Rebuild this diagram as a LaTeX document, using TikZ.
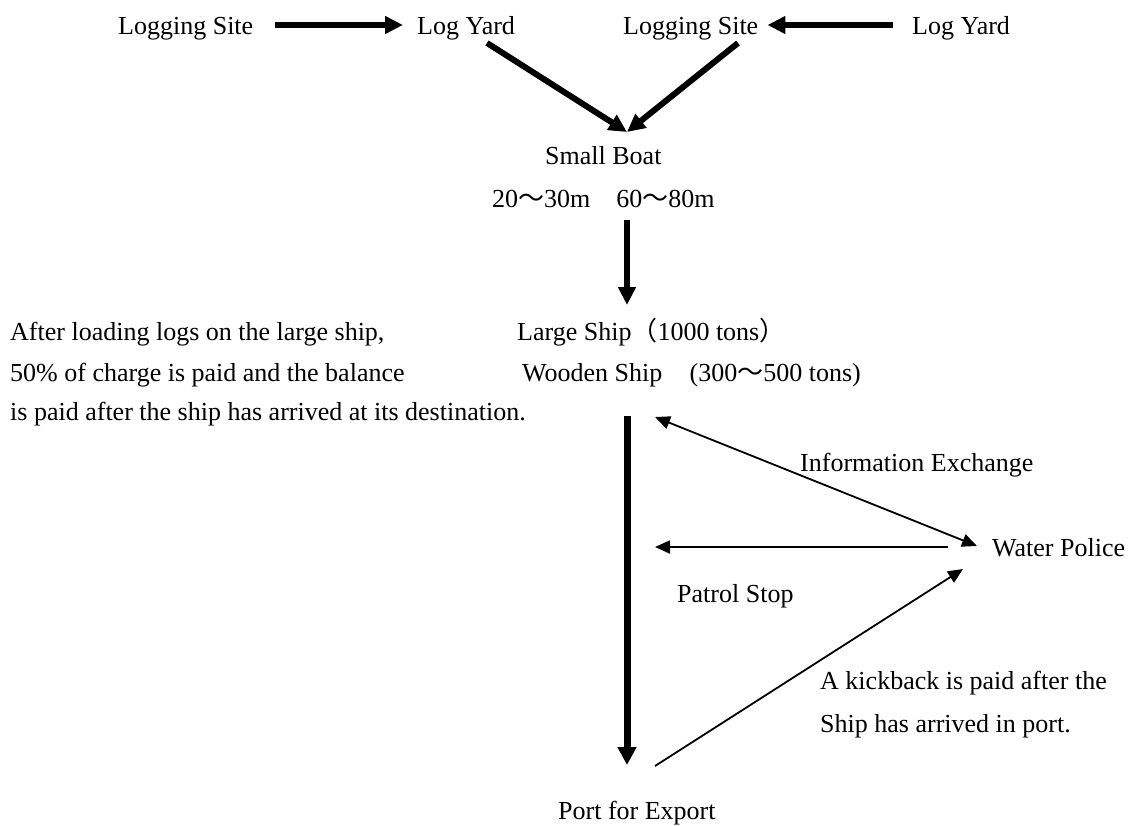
\documentclass[tikz,border=0pt]{standalone}
\usepackage{fontspec}
\setmainfont{Liberation Serif}
\newfontfamily\cjk{Noto Sans CJK JP}
\usetikzlibrary{arrows.meta}
\tikzset{
  lbl/.style={inner sep=0pt, anchor=base west, font=\fontsize{26}{30}\selectfont},
  heavy/.style={line width=6pt, -{Triangle[length=18pt,width=17pt]}},
  fine/.style={line width=1.8pt, -{Triangle[length=15pt,width=13pt]}},
  finetwo/.style={line width=1.8pt, {Triangle[length=15pt,width=13pt]}-{Triangle[length=15pt,width=13pt]}},
}
\begin{document}
\begin{tikzpicture}[x=1pt,y=-1pt]
  \useasboundingbox (0,0) rectangle (1133,825);

  % top row
  \node[lbl] (site1) at (118,34) {Logging Site};
  \node[lbl] (yard1) at (417,34) {Log Yard};
  \node[lbl] (site2) at (623,34) {Logging Site};
  \node[lbl] (yard2) at (912,34) {Log Yard};

  % small boat
  \node[lbl] (boat) at (545,164) {Small Boat};
  \node[lbl] (len) at (492,207) {20{\cjk 〜}30m\hspace{1em}60{\cjk 〜}80m};

  % large ships
  \node[lbl] (large) at (517,340) {Large Ship{\cjk （}1000 tons{\cjk ）}};
  \node[lbl] (wooden) at (522,381) {Wooden Ship\hspace{1.05em}(300{\cjk 〜}500 tons)};

  % payment note
  \node[lbl] (note1) at (10,340) {After loading logs on the large ship,};
  \node[lbl] (note2) at (10,381) {50\% of charge is paid and the balance};
  \node[lbl] (note3) at (10,420) {is paid after the ship has arrived at its destination.};

  % police side
  \node[lbl] (info) at (800,471) {Information Exchange};
  \node[lbl] (police) at (992,556) {Water Police};
  \node[lbl] (patrol) at (677,602) {Patrol Stop};
  \node[lbl] (kick1) at (820,689) {A kickback is paid after the};
  \node[lbl] (kick2) at (820,732) {Ship has arrived in port.};
  \node[lbl] (port) at (558,819) {Port for Export};

  % arrow end points
  \coordinate (hub) at (627,132);
  \coordinate (y1s) at (487,43);
  \coordinate (s2s) at (738,43);
  \coordinate (boatout) at (627,220);
  \coordinate (shipin) at (627,305);
  \coordinate (mainfrom) at (627,416);
  \coordinate (mainto) at (627,765);
  \coordinate (infoL) at (655,417);
  \coordinate (infoR) at (977,546);
  \coordinate (patrolR) at (948,547);
  \coordinate (patrolL) at (655,547);
  \coordinate (kickfrom) at (655,766);
  \coordinate (kickto) at (963,569);

  % heavy flow arrows
  \draw[heavy] ([xshift=22pt,yshift=9pt]site1.base east) -- ([xshift=-14pt,yshift=9pt]yard1.base west);
  \draw[heavy] ([xshift=-19pt,yshift=9pt]yard2.base west) -- ([xshift=9pt,yshift=9pt]site2.base east);
  \draw[heavy] (y1s) -- (hub);
  \draw[heavy] (s2s) -- (hub);
  \draw[heavy] (boatout) -- (shipin);
  \draw[heavy, line width=7pt, -{Triangle[length=18pt,width=18pt]}] (mainfrom) -- (mainto);

  % police relations
  \draw[finetwo] (infoL) -- (infoR);
  \draw[fine] (patrolR) -- (patrolL);
  \draw[fine] (kickfrom) -- (kickto);
\end{tikzpicture}
\end{document}
